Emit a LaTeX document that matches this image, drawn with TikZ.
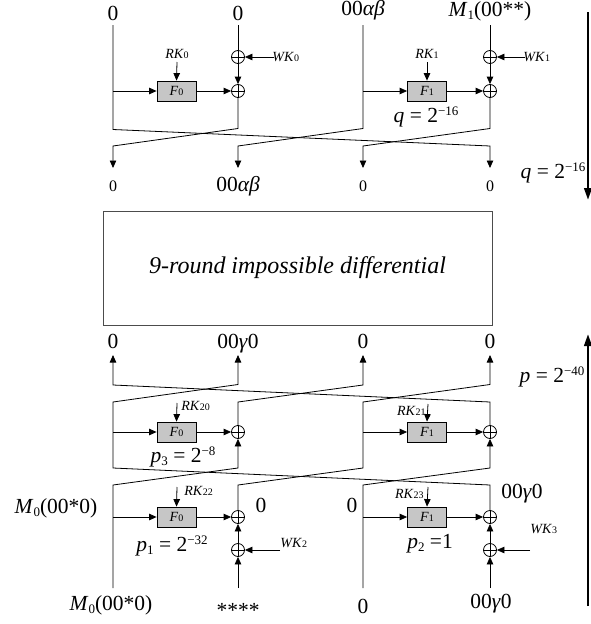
\documentclass[tikz,border=0pt]{standalone}
\usepackage{fontspec}
\setmainfont{Liberation Serif}
\usetikzlibrary{arrows.meta}
\newcommand\bigf{\fontsize{21.5}{24}\selectfont}
\newcommand\smf{\fontsize{14}{16}\selectfont}
\newcommand\outf{\fontsize{16}{18}\selectfont}
\newcommand\subd[1]{{\fontsize{10}{10}\selectfont #1}}
\newcommand\msub[1]{\raisebox{-3pt}{\fontsize{13}{13}\selectfont #1}}
\newcommand\msup[1]{\raisebox{6.5pt}{\fontsize{13}{13}\selectfont #1}}
\tikzset{
  lab/.style={inner sep=0pt, anchor=base},
  big/.style={font=\bigf},
  sm/.style={font=\smf},
  xor/.style={circle, draw, minimum size=13pt, inner sep=0pt,
    path picture={\draw (path picture bounding box.north) -- (path picture bounding box.south)
      (path picture bounding box.west) -- (path picture bounding box.east);}},
  ffun/.style={draw, fill=gray!45, minimum width=39pt, minimum height=20pt, inner sep=0pt, font=\smf},
  arr/.style={-{Triangle[length=7.5pt,width=6.5pt]}},
  bigarr/.style={line width=2.5pt, -{Triangle[length=12pt,width=7.5pt]}},
}
\begin{document}
\begin{tikzpicture}[x=1pt,y=-1pt,line width=0.8pt]
\useasboundingbox (0,0) rectangle (590,624);

% ---------------- top part ----------------
\node[lab,big] (t1) at (113,20) {0};
\node[lab,big] (t2) at (238,20) {0};
\node[lab,big] (t3) at (363,15.5) {00\textit{αβ}};
\node[lab,big] (t4) at (490,16.5) {\textit{M}\msub{1}(00**)};
\coordinate (s1) at (113,25); \coordinate (s2) at (238,25);
\coordinate (s3) at (363,25); \coordinate (s4) at (490,25);

\node[xor] (xa) at (238,57) {};
\node[xor] (xb) at (238,91) {};
\node[xor] (xc) at (490,57) {};
\node[xor] (xd) at (490,91) {};
\node[ffun] (fa) at (176.5,91) {\textit{F}\subd{0}};
\node[ffun] (fb) at (427,91) {\textit{F}\subd{1}};

\node[lab,sm] (rka) at (177,58) {\textit{RK}\subd{0}};
\node[lab,sm] (rkb) at (427,58) {\textit{RK}\subd{1}};
\coordinate (rka0) at (177,62); \coordinate (rkb0) at (427,62);
\draw[arr] (rka0) -- (fa.north);
\draw[arr] (rkb0) -- (fb.north);

\node[lab,sm,anchor=base west] (wka) at (272,61.5) {\textit{WK}\subd{0}};
\node[lab,sm,anchor=base west] (wkb) at (523,61.5) {\textit{WK}\subd{1}};
\coordinate (wka0) at (274,57); \coordinate (wkb0) at (525,57);
\draw[arr] (wka0) -- (xa.east);
\draw[arr] (wkb0) -- (xc.east);

\node[lab,big] (qa) at (426,122) {\textit{q} = 2\msup{−16}};

\coordinate (br1) at (113,91); \coordinate (br3) at (363,91);
\draw[arr] (br1) -- (fa.west);
\draw[arr] (br3) -- (fb.west);
\draw[arr] (fa.east) -- (xb.west);
\draw[arr] (fb.east) -- (xd.west);
\draw (s2) -- (xa.north);
\draw (s4) -- (xc.north);
\draw[arr] (xa.south) -- (xb.north);
\draw[arr] (xc.south) -- (xd.north);

\coordinate (u1) at (113,129.5); \coordinate (u2) at (238,128.5);
\coordinate (u3) at (363,128.5); \coordinate (u4) at (490,128.5);
\coordinate (l1) at (113,146); \coordinate (l2) at (238,146);
\coordinate (l3) at (363,146); \coordinate (l4) at (490,146);
\coordinate (e1) at (113,168); \coordinate (e2) at (238,168);
\coordinate (e3) at (363,168); \coordinate (e4) at (490,168);
\draw[arr] (s1) -- (u1) -- (l4) -- (e4);
\draw[arr] (xb.south) -- (u2) -- (l1) -- (e1);
\draw[arr] (s3) -- (u3) -- (l2) -- (e2);
\draw[arr] (xd.south) -- (u4) -- (l3) -- (e3);

\node[lab,font=\outf] (o1) at (113,191) {0};
\node[lab,big] (o2) at (238,191) {00\textit{αβ}};
\node[lab,font=\outf] (o3) at (363,191) {0};
\node[lab,font=\outf] (o4) at (490,191) {0};

\coordinate (qt0) at (588,12); \coordinate (qt1) at (588,200);
\draw[bigarr] (qt0) -- (qt1);
\node[lab,big] (qr) at (553,178) {\textit{q} = 2\msup{−16}};

% ---------------- middle box ----------------
\node[draw=black!70, line width=1pt, minimum width=389pt, minimum height=114pt, inner sep=0pt,
  font=\fontsize{24}{27}\selectfont\itshape] (mid) at (297.5,268) {9-round impossible differential};

% ---------------- bottom part ----------------
\node[lab,big] (b1) at (113,348) {0};
\node[lab,big] (b2) at (238,348) {00\textit{γ}0};
\node[lab,big] (b3) at (363,348) {0};
\node[lab,big] (b4) at (490,348) {0};
\coordinate (a1) at (113,355); \coordinate (a2) at (238,355);
\coordinate (a3) at (363,355); \coordinate (a4) at (490,355);

% crossing A (upper 385, lower 402)
\coordinate (pu1) at (113,385); \coordinate (pu2) at (238,384.5);
\coordinate (pu3) at (363,385); \coordinate (pu4) at (490,384.5);
\coordinate (pl1) at (113,402); \coordinate (pl2) at (238,402);
\coordinate (pl3) at (363,402); \coordinate (pl4) at (490,402);
% crossing B (upper 468, lower 485)
\coordinate (qu1) at (113,468); \coordinate (qu2) at (238,468);
\coordinate (qu3) at (363,468); \coordinate (qu4) at (490,468);
\coordinate (ql1) at (113,485); \coordinate (ql2) at (238,485);
\coordinate (ql3) at (363,485); \coordinate (ql4) at (490,485);

% round 2
\node[ffun] (fc) at (176.5,432) {\textit{F}\subd{0}};
\node[ffun] (fd) at (427,432) {\textit{F}\subd{1}};
\node[xor] (xe) at (238,432) {};
\node[xor] (xf) at (490,432) {};
\coordinate (rkc0) at (177,403); \coordinate (rkd0) at (428,404);
\draw[arr] (rkc0) -- (fc.north);
\draw[arr] (rkd0) -- (fd.north);
\node[lab,sm,anchor=base west] (rkc) at (181,410) {\textit{RK}\subd{20}};
\node[lab,sm,anchor=base east] (rkd) at (426,415) {\textit{RK}\subd{21}};
\node[lab,big] (p3) at (183,462) {\textit{p}\msub{3} = 2\msup{−8}};
\coordinate (br5) at (113,432); \coordinate (br7) at (363,432);
\draw[arr] (br5) -- (fc.west);
\draw[arr] (br7) -- (fd.west);
\draw[arr] (fc.east) -- (xe.west);
\draw[arr] (fd.east) -- (xf.west);

% round 1
\node[ffun] (fe) at (176.5,517) {\textit{F}\subd{0}};
\node[ffun] (ff) at (427,517) {\textit{F}\subd{1}};
\node[xor] (xg) at (238,517) {};
\node[xor] (xh) at (490,517) {};
\node[xor] (xi) at (238,550) {};
\node[xor] (xj) at (490,550) {};
\coordinate (rke0) at (177,487); \coordinate (rkf0) at (428,487);
\draw[arr] (rke0) -- (fe.north);
\draw[arr] (rkf0) -- (ff.north);
\node[lab,sm,anchor=base west] (rke) at (184,495) {\textit{RK}\subd{22}};
\node[lab,sm,anchor=base east] (rkf) at (424,498) {\textit{RK}\subd{23}};
\coordinate (br9) at (113,517); \coordinate (br11) at (363,517);
\draw[arr] (br9) -- (fe.west);
\draw[arr] (br11) -- (ff.west);
\draw[arr] (fe.east) -- (xg.west);
\draw[arr] (ff.east) -- (xh.west);
\draw[arr] (xi.north) -- (xg.south);
\draw[arr] (xj.north) -- (xh.south);
\coordinate (wkc0) at (280,550); \coordinate (wkd0) at (530,550);
\draw[arr] (wkc0) -- (xi.east);
\draw[arr] (wkd0) -- (xj.east);
\node[lab,sm,anchor=base west] (wkc) at (280,547) {\textit{WK}\subd{2}};
\node[lab,sm,anchor=base west] (wkd) at (530,533) {\textit{WK}\subd{3}};

\node[lab,big] (m0a) at (56,513) {\textit{M}\msub{0}(00*0)};
\node[lab,big] (z1) at (261,512) {0};
\node[lab,big] (z2) at (352,512) {0};
\node[lab,big] (g1) at (522,498) {00\textit{γ}0};
\node[lab,big] (p1) at (172,551) {\textit{p}\msub{1} = 2\msup{−32}};
\node[lab,big] (p2) at (430,548) {\textit{p}\msub{2} =1};

\coordinate (in1) at (113,588); \coordinate (in2) at (238,588);
\coordinate (in3) at (363,588); \coordinate (in4) at (490,588);
\draw[arr] (in2) -- (xi.south);
\draw[arr] (in4) -- (xj.south);

\node[lab,big] (m0b) at (111,610) {\textit{M}\msub{0}(00*0)};
\node[lab,big] (st) at (238,617) {****};
\node[lab,big] (z3) at (363,613) {0};
\node[lab,big] (g2) at (491,608) {00\textit{γ}0};

% data paths of the bottom part (upwards)
\draw[arr] (in1) -- (ql1) -- (qu2) -- (xe.south);
\draw[arr] (in3) -- (ql3) -- (qu4) -- (xf.south);
\draw[arr] (xg.north) -- (ql2) -- (qu3) -- (pl3) -- (pu4) -- (a4);
\draw[arr] (xh.north) -- (ql4) -- (qu1) -- (pl1) -- (pu2) -- (a2);
\draw[arr] (xe.north) -- (pl2) -- (pu3) -- (a3);
\draw[arr] (xf.north) -- (pl4) -- (pu1) -- (a1);

\coordinate (pb0) at (588,606); \coordinate (pb1) at (588,334);
\draw[bigarr] (pb0) -- (pb1);
\node[lab,big] (pr) at (552,382) {\textit{p} = 2\msup{−40}};
\end{tikzpicture}
\end{document}
